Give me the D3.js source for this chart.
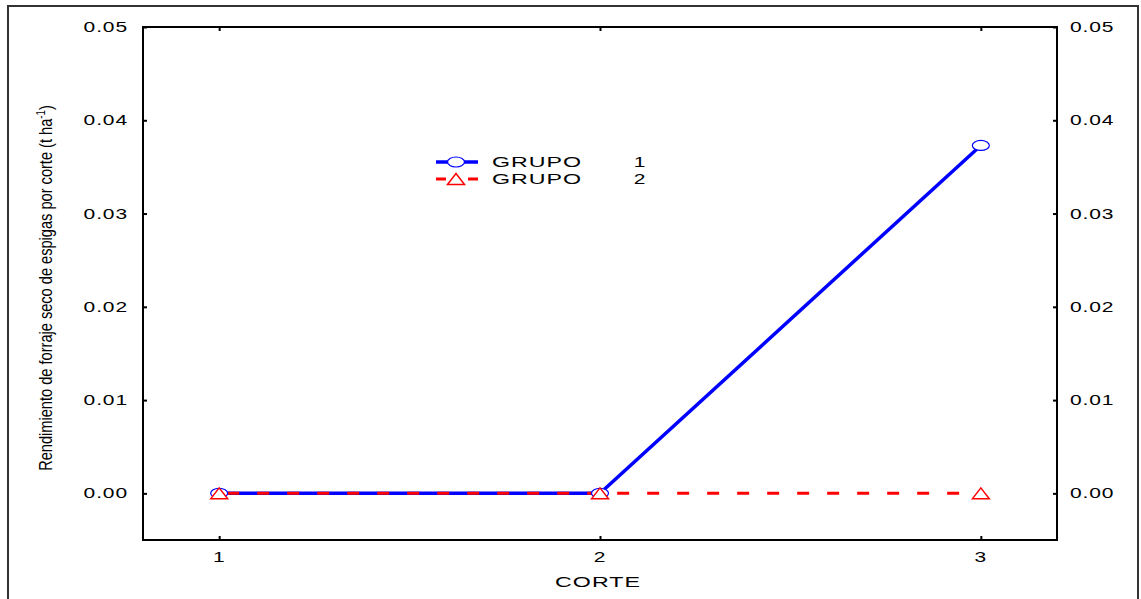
<!DOCTYPE html>
<html>
<head>
<meta charset="utf-8">
<script src="https://cdn.jsdelivr.net/npm/d3@7"></script>
<style>
  html, body { margin: 0; padding: 0; background: #fff; }
  svg { display: block; }
  text { font-family: "Liberation Sans", Arial, sans-serif; fill: #000; }
</style>
</head>
<body>
<svg id="chart" width="1141" height="599"></svg>
<script>
// Cut number and series values
const cortes = [1, 2, 3];
const grupo1 = [0.0, 0.0, 0.0373];
const grupo2 = [0.0, 0.0, 0.0];
const seriesNames = ["GRUPO", "GRUPO"];
const seriesIds = ["1", "2"];
const yTicks = [0.00, 0.01, 0.02, 0.03, 0.04, 0.05];
const xTicks = [1, 2, 3];
const xTitle = "CORTE";
const yTitle = "Rendimiento de forraje seco de espigas por corte (t ha";

const svg = d3.select("#chart");
const W = 1141, H = 599;
const box = { left: 143, top: 27, right: 1057, bottom: 540 };

const x = d3.scaleLinear().domain([0.8, 3.2]).range([box.left, box.right]);
const y = d3.scaleLinear().domain([-0.005, 0.05]).range([box.bottom, box.top]);

// Outer frame
svg.append("path")
  .attr("d", `M8,${H + 5} L8,6 L1138,6 L1138,${H + 5}`)
  .attr("fill", "none").attr("stroke", "#333").attr("stroke-width", 2);

// Horizontally widened text helper
function wideText(g, tx, ty, str, anchor, sx) {
  const t = g.append("g").attr("transform", `translate(${tx},${ty}) scale(${sx || 1.5},1)`)
    .append("text").attr("text-anchor", anchor || "start")
    .attr("font-size", 14).attr("letter-spacing", 0.6).text(str);
  return t;
}

// Plot box
svg.append("rect")
  .attr("x", box.left).attr("y", box.top)
  .attr("width", box.right - box.left).attr("height", box.bottom - box.top)
  .attr("fill", "none").attr("stroke", "#000").attr("stroke-width", 2);

// Axes with inward ticks
const axG = svg.append("g");
const tickLen = 4;
axG.append("g").attr("transform", `translate(${box.left},0)`)
  .call(d3.axisRight(y).tickValues(yTicks).tickSize(tickLen).tickFormat(""))
  .call(g => g.select(".domain").remove());
axG.append("g").attr("transform", `translate(${box.right},0)`)
  .call(d3.axisLeft(y).tickValues(yTicks).tickSize(tickLen).tickFormat(""))
  .call(g => g.select(".domain").remove());
axG.append("g").attr("transform", `translate(0,${box.bottom})`)
  .call(d3.axisTop(x).tickValues(xTicks).tickSize(tickLen).tickFormat(""))
  .call(g => g.select(".domain").remove());
axG.append("g").attr("transform", `translate(0,${box.top})`)
  .call(d3.axisBottom(x).tickValues(xTicks).tickSize(tickLen).tickFormat(""))
  .call(g => g.select(".domain").remove());
axG.selectAll(".tick line").attr("stroke", "#000").attr("stroke-width", 2);

// Tick labels
const fmt = d3.format(".2f");
yTicks.forEach(v => {
  wideText(svg, 128, y(v) + 5, fmt(v), "end", 1.5);
  wideText(svg, 1070, y(v) + 5, fmt(v), "start", 1.5);
});
xTicks.forEach(v => {
  wideText(svg, x(v), 562, String(v), "middle", 1.5);
});
wideText(svg, 598, 587, xTitle, "middle", 1.66);

// Y-axis title (condensed, rotated)
const ytG = svg.append("g");
const yt = ytG.append("text")
  .attr("text-anchor", "middle")
  .attr("font-size", 18);
yt.append("tspan").text(yTitle);
yt.append("tspan").attr("font-size", 12).attr("dy", -7).text("-1");
yt.append("tspan").attr("dy", 7).text(")");
const titleLen = yt.node().getComputedTextLength();
ytG.attr("transform", `translate(52,288) rotate(-90) scale(${366 / titleLen},1)`);

// Lines
const line = d3.line().x((d, i) => x(cortes[i])).y(d => y(d));
svg.append("path").datum(grupo1).attr("d", line)
  .attr("fill", "none").attr("stroke", "#0000ff").attr("stroke-width", 3.5);
svg.append("path").datum(grupo2).attr("d", line)
  .attr("fill", "none").attr("stroke", "#ff0000").attr("stroke-width", 3)
  .attr("stroke-dasharray", "12,18").attr("stroke-dashoffset", -8);

// Markers
function circleMarker(g, cx, cy) {
  g.append("ellipse").attr("cx", cx).attr("cy", cy).attr("rx", 8.5).attr("ry", 5)
    .attr("fill", "#fff").attr("stroke", "#0000ff").attr("stroke-width", 1.2);
}
function triMarker(g, cx, cy) {
  g.append("path")
    .attr("d", `M${cx - 8.5},${cy + 5.5} L${cx},${cy - 5.5} L${cx + 8.5},${cy + 5.5} Z`)
    .attr("fill", "#fff").attr("stroke", "#ff0000").attr("stroke-width", 1.5);
}
grupo1.forEach((v, i) => circleMarker(svg, x(cortes[i]), y(v)));
grupo2.forEach((v, i) => triMarker(svg, x(cortes[i]), y(v)));

// Legend
const lg = svg.append("g");
const legRows = [
  { y: 162, color: "#0000ff", dash: null, marker: circleMarker, w: 3.5 },
  { y: 179, color: "#ff0000", dash: "10,22,10", marker: triMarker, w: 3 }
];
legRows.forEach((r, i) => {
  lg.append("line").attr("x1", 436).attr("x2", 478).attr("y1", r.y).attr("y2", r.y)
    .attr("stroke", r.color).attr("stroke-width", r.w)
    .attr("stroke-dasharray", r.dash);
  r.marker(lg, 456, r.y);
  wideText(lg, 492, r.y + 5, seriesNames[i], "start", 1.66);
  wideText(lg, 640, r.y + 5, seriesIds[i], "middle", 1.5);
});
</script>
</body>
</html>
